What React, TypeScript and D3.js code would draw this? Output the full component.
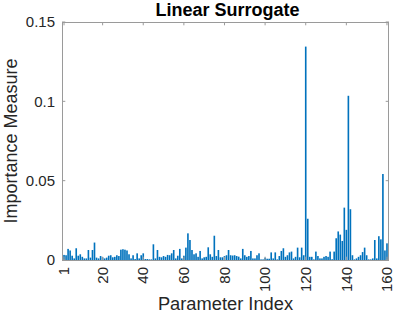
import React from 'react';
import * as d3 from 'd3';

// Importance measure per parameter (linear surrogate).
const importance = [
  0.0032, 0.003, 0.007, 0.006, 0.0027, 0.001, 0.0074, 0.0027, 0.0036, 0.002,
  0.001, 0.001, 0.0063, 0.0015, 0.0063, 0.011, 0.0015, 0.001, 0.0025, 0.0017,
  0.001, 0.0015, 0.0027, 0.003, 0.0017, 0.002, 0.003, 0.0025, 0.0065, 0.0068,
  0.0065, 0.006, 0.0036, 0.001, 0.003, 0.0006, 0.0042, 0.001, 0.003, 0.0042,
  0.0006, 0.0006, 0.0004, 0.0004, 0.0099, 0.001, 0.0063, 0.002, 0.0017, 0.0025,
  0.002, 0.0032, 0.003, 0.0042, 0.0063, 0.001, 0.0027, 0.007, 0.001, 0.0027,
  0.0078, 0.0168, 0.0126, 0.0063, 0.0036, 0.0042, 0.002, 0.0057, 0.001, 0.0017,
  0.002, 0.008, 0.0036, 0.002, 0.0153, 0.0025, 0.0063, 0.0017, 0.0017, 0.0025,
  0.003, 0.0063, 0.003, 0.0028, 0.003, 0.0025, 0.0021, 0.001, 0.007, 0.003,
  0.002, 0.0025, 0.0057, 0.001, 0.001, 0.003, 0.0042, 0.0004, 0.0004, 0.0015,
  0.0008, 0.0008, 0.0048, 0.001, 0.0048, 0.0004, 0.0025, 0.0057, 0.0074, 0.002,
  0.003, 0.0048, 0.0053, 0.001, 0.002, 0.0078, 0.0017, 0.0078, 0.003, 0.1345,
  0.026, 0.002, 0.002, 0.0004, 0.0053, 0.0025, 0.001, 0.001, 0.002, 0.0025,
  0.002, 0.0053, 0.0005, 0.0053, 0.0137, 0.018, 0.016, 0.012, 0.033, 0.019,
  0.1035, 0.032, 0.003, 0.0004, 0.001, 0.002, 0.003, 0.005, 0.0078, 0.003,
  0.0004, 0.0004, 0.001, 0.0126, 0.001, 0.015, 0.013, 0.0542, 0.006, 0.0105,
];

const xTicks = [1, 20, 40, 60, 80, 100, 120, 140, 160];
const yTicks = [0, 0.05, 0.1, 0.15];
const yTickLabels = ['0', '0.05', '0.1', '0.15'];

const W = 395;
const H = 316;
const FONT = '"Liberation Sans", Arial, Helvetica, sans-serif';
const AXIS = '#262626';
const GRID_LINE = '#9a9a9a';
const BAR = '#0072BD';

export default function App() {
  const left = 62;
  const right = 389;
  const top = 22;
  const bottom = 260;

  const x = d3.scaleLinear().domain([0, 161]).range([left, right]);
  const y = d3.scaleLinear().domain([0, 0.15]).range([bottom, top]);
  const barW = (x(1) - x(0)) * 0.8;
  const tick = 3.3;

  return (
    <svg
      width={W}
      height={H}
      style={{ position: 'absolute', left: 0, top: 0, background: '#fff' }}
      fontFamily={FONT}
    >
      <text
        x={(left + right) / 2 + 2}
        y={15.5}
        textAnchor="middle"
        fontWeight="bold"
        fontSize={18}
        fill="#000"
      >
        Linear Surrogate
      </text>

      {/* bars */}
      {importance.map((v, i) => (
        <rect
          key={i}
          x={x(i + 1) - barW / 2}
          y={y(v)}
          width={barW}
          height={y(0) - y(v)}
          fill={BAR}
        />
      ))}

      {/* box */}
      <rect
        x={left + 0.5}
        y={top + 0.5}
        width={right - left - 1}
        height={bottom - top}
        fill="none"
        stroke={GRID_LINE}
        strokeWidth={1}
      />

      {/* x ticks */}
      {xTicks.map((t) => (
        <g key={`xt-${t}`}>
          <line x1={x(t)} x2={x(t)} y1={bottom} y2={bottom - tick} stroke={GRID_LINE} />
          <line x1={x(t)} x2={x(t)} y1={top} y2={top + tick} stroke={GRID_LINE} />
          <text
            transform={`translate(${x(t)}, ${bottom + 7}) rotate(-90)`}
            textAnchor="end"
            dy="0.35em"
            fontSize={15}
            fill={AXIS}
          >
            {t}
          </text>
        </g>
      ))}

      {/* y ticks */}
      {yTicks.map((t, i) => (
        <g key={`yt-${t}`}>
          <line x1={left} x2={left + tick} y1={y(t)} y2={y(t)} stroke={GRID_LINE} />
          <line x1={right} x2={right - tick} y1={y(t)} y2={y(t)} stroke={GRID_LINE} />
          <text
            x={left - 7}
            y={y(t)}
            dy="0.35em"
            textAnchor="end"
            fontSize={15}
            fill={AXIS}
          >
            {yTickLabels[i]}
          </text>
        </g>
      ))}

      <text
        x={(left + right) / 2}
        y={310}
        textAnchor="middle"
        fontSize={18.3}
        fill={AXIS}
      >
        Parameter Index
      </text>
      <text
        transform={`translate(16.5, ${(top + bottom) / 2}) rotate(-90)`}
        textAnchor="middle"
        fontSize={18}
        fill={AXIS}
      >
        Importance Measure
      </text>
    </svg>
  );
}
